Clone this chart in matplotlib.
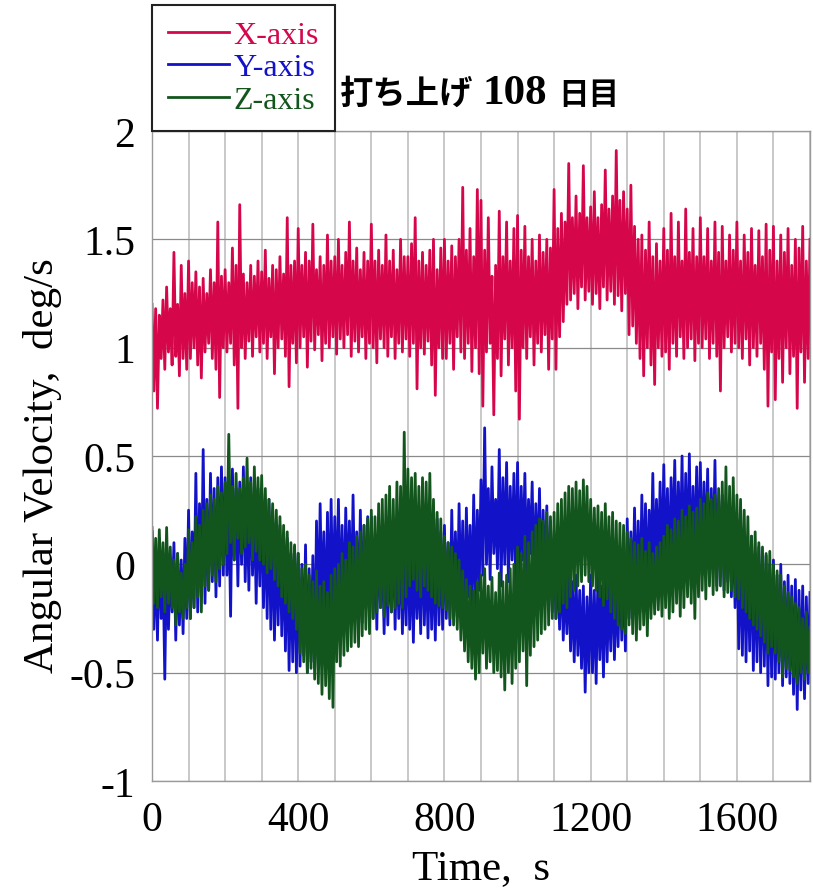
import numpy as np
import matplotlib
matplotlib.use("Agg")
import matplotlib.pyplot as plt

# sample times, every 5 s
t = np.arange(0, 1805, 5)

# angular velocity (deg/s), one row per 100 s
x_axis = [
    1.20, 0.80, 1.18, 0.72, 1.15, 0.95, 1.22, 0.90, 1.28, 0.98, 1.18, 0.92, 1.44, 0.96, 1.20, 0.87, 1.38, 0.95, 1.25, 0.90,
    1.40, 0.95, 1.30, 1.00, 1.35, 0.92, 1.28, 0.86, 1.32, 0.98, 1.25, 1.02, 1.36, 0.95, 1.30, 0.90, 1.58, 0.77, 1.33, 1.00,
    1.36, 0.98, 1.30, 1.02, 1.46, 0.92, 1.38, 0.72, 1.66, 1.00, 1.34, 0.95, 1.30, 1.03, 1.38, 0.96, 1.33, 1.05, 1.40, 0.98,
    1.35, 1.02, 1.45, 0.95, 1.32, 1.05, 1.38, 0.88, 1.36, 1.00, 1.42, 1.04, 1.34, 0.96, 1.60, 0.82, 1.38, 1.02, 1.40, 0.93,
    1.55, 1.00, 1.38, 1.05, 1.44, 0.91, 1.40, 1.03, 1.57, 0.99, 1.36, 1.06, 1.42, 0.94, 1.38, 1.02, 1.52, 1.00, 1.40, 1.05,
    1.42, 0.97, 1.50, 1.04, 1.38, 1.00, 1.44, 1.06, 1.58, 0.96, 1.40, 1.03, 1.46, 0.98, 1.36, 1.05, 1.44, 0.95, 1.40, 1.02,
    1.57, 1.00, 1.40, 0.93, 1.45, 1.04, 1.38, 1.00, 1.52, 0.96, 1.40, 1.05, 1.45, 0.95, 1.36, 1.02, 1.50, 0.98, 1.42, 1.04,
    1.42, 0.96, 1.48, 1.02, 1.60, 0.81, 1.40, 1.00, 1.44, 0.97, 1.38, 1.03, 1.45, 0.92, 1.50, 0.78, 1.36, 1.00, 1.46, 0.95,
    1.50, 0.95, 1.40, 1.02, 1.47, 0.90, 1.42, 1.05, 1.50, 0.98, 1.74, 0.95, 1.45, 1.02, 1.55, 0.89, 1.42, 1.00, 1.73, 0.88,
    1.68, 0.73, 1.45, 0.98, 1.60, 1.02, 1.33, 0.69, 1.38, 0.95, 1.63, 0.87, 1.42, 1.04, 1.58, 0.92, 1.40, 1.00, 1.55, 0.80,
    1.61, 0.67, 1.45, 1.00, 1.56, 0.95, 1.42, 1.05, 1.50, 0.92, 1.40, 1.02, 1.52, 0.98, 1.44, 1.06, 1.50, 0.90, 1.46, 1.04,
    1.73, 0.90, 1.55, 1.05, 1.62, 1.12, 1.58, 1.20, 1.85, 1.22, 1.60, 1.25, 1.70, 1.18, 1.62, 1.28, 1.84, 1.22, 1.60, 1.26,
    1.65, 1.20, 1.72, 1.25, 1.60, 1.18, 1.66, 1.28, 1.82, 1.22, 1.64, 1.26, 1.70, 1.20, 1.91, 1.24, 1.68, 1.17, 1.72, 1.25,
    1.64, 1.06, 1.75, 1.10, 1.56, 1.02, 1.50, 0.95, 1.52, 0.87, 1.45, 1.00, 1.58, 0.92, 1.42, 0.83, 1.48, 1.00, 1.40, 0.96,
    1.55, 0.98, 1.45, 0.90, 1.62, 1.02, 1.42, 0.96, 1.58, 1.05, 1.40, 0.95, 1.64, 1.00, 1.44, 1.04, 1.55, 0.94, 1.42, 1.02,
    1.60, 1.00, 1.42, 1.04, 1.55, 0.95, 1.40, 1.02, 1.58, 0.96, 1.44, 0.80, 1.56, 1.00, 1.40, 1.05, 1.52, 0.98, 1.45, 1.02,
    1.58, 1.00, 1.40, 0.95, 1.52, 1.04, 1.44, 0.92, 1.55, 1.00, 1.38, 0.96, 1.54, 1.02, 1.42, 0.90, 1.57, 0.73, 1.45, 0.98,
    1.56, 0.76, 1.40, 0.95, 1.52, 0.84, 1.44, 1.00, 1.55, 0.88, 1.38, 0.96, 1.50, 0.72, 1.46, 0.98, 1.56, 0.84, 1.40, 0.95,
    1.50]

y_axis = [
    0.15, -0.30, 0.05, -0.35, 0.12, -0.25, 0.02, -0.53, 0.08, -0.30, 0.00, -0.22, 0.10, -0.35, 0.05, -0.28, 0.02, -0.32, 0.12, -0.25,
    0.25, -0.25, 0.15, -0.20, 0.42, -0.22, 0.28, -0.15, 0.53, -0.18, 0.30, -0.12, 0.42, -0.08, 0.35, -0.15, 0.40, -0.10, 0.45, -0.05,
    0.40, -0.05, 0.30, -0.24, 0.44, 0.02, 0.35, -0.10, 0.38, 0.00, 0.45, -0.08, 0.32, -0.12, 0.40, -0.05, 0.30, -0.18, 0.35, -0.10,
    0.33, -0.20, 0.25, -0.25, 0.30, -0.30, 0.20, -0.35, 0.15, -0.28, 0.18, -0.33, 0.10, -0.40, 0.12, -0.49, 0.05, -0.45, 0.08, -0.50,
    0.05, -0.47, 0.00, -0.42, 0.09, -0.50, -0.02, -0.45, 0.04, -0.48, 0.20, -0.30, 0.28, -0.25, 0.15, -0.33, 0.24, -0.28, 0.30, -0.25,
    0.22, -0.20, 0.30, -0.25, 0.18, -0.28, 0.26, -0.15, 0.20, -0.24, 0.32, -0.20, 0.15, -0.22, 0.25, -0.27, 0.18, -0.20, 0.22, -0.25,
    0.22, -0.25, 0.12, -0.30, 0.18, -0.20, 0.10, -0.32, 0.15, -0.28, 0.08, -0.22, 0.20, -0.30, 0.12, -0.25, 0.15, -0.32, 0.10, -0.28,
    0.16, -0.30, 0.08, -0.36, 0.12, -0.25, 0.05, -0.32, 0.18, -0.28, 0.10, -0.34, 0.15, -0.30, 0.08, -0.35, 0.21, -0.28, 0.15, -0.30,
    0.18, -0.25, 0.10, -0.28, 0.25, -0.20, 0.15, -0.24, 0.28, -0.19, 0.20, -0.28, 0.26, -0.15, 0.18, -0.22, 0.32, -0.20, 0.25, -0.12,
    0.39, -0.05, 0.63, 0.00, 0.35, -0.07, 0.45, 0.05, 0.30, -0.02, 0.53, -0.10, 0.40, 0.00, 0.47, -0.08, 0.36, 0.02, 0.42, -0.10,
    0.47, -0.08, 0.36, 0.02, 0.42, -0.05, 0.30, 0.05, 0.38, -0.12, 0.28, -0.05, 0.35, -0.15, 0.25, -0.10, 0.27, -0.20, 0.20, -0.22,
    0.10, -0.25, 0.02, -0.30, 0.05, -0.35, -0.05, -0.32, 0.00, -0.40, -0.08, -0.45, -0.05, -0.42, -0.12, -0.48, -0.10, -0.59, -0.15, -0.50,
    -0.05, -0.50, -0.12, -0.55, -0.02, -0.44, -0.10, -0.52, 0.00, -0.45, -0.08, -0.40, 0.02, -0.44, -0.05, -0.38, 0.05, -0.35, 0.00, -0.40,
    0.21, -0.25, 0.15, -0.20, 0.26, -0.18, 0.20, -0.22, 0.32, -0.12, 0.28, -0.15, 0.25, -0.05, 0.42, -0.10, 0.30, -0.02, 0.38, -0.08,
    0.46, -0.02, 0.35, -0.08, 0.40, 0.05, 0.48, -0.05, 0.38, 0.00, 0.50, -0.08, 0.42, -0.02, 0.51, -0.10, 0.36, 0.02, 0.45, -0.05,
    0.47, -0.05, 0.38, 0.00, 0.44, -0.08, 0.35, -0.02, 0.48, -0.10, 0.30, -0.05, 0.32, -0.12, 0.25, -0.08, 0.28, -0.15, 0.22, -0.20,
    0.21, -0.39, 0.12, -0.42, 0.15, -0.45, 0.08, -0.40, 0.13, -0.49, 0.05, -0.45, 0.08, -0.50, 0.02, -0.47, 0.04, -0.56, 0.00, -0.52,
    0.02, -0.53, -0.05, -0.50, 0.00, -0.56, -0.08, -0.52, -0.05, -0.55, -0.10, -0.60, -0.07, -0.67, -0.12, -0.58, -0.10, -0.62, -0.15, -0.55,
    -0.13]

z_axis = [
    0.17, -0.18, 0.12, -0.20, 0.16, -0.15, 0.10, -0.22, 0.17, -0.18, 0.08, -0.20, 0.02, -0.28, 0.05, -0.22, -0.04, -0.25, 0.00, -0.20,
    0.16, -0.25, 0.10, -0.20, 0.22, -0.15, 0.18, -0.22, 0.25, -0.10, 0.28, -0.12, 0.32, -0.05, 0.30, -0.08, 0.36, -0.02, 0.33, 0.00,
    0.38, 0.05, 0.60, 0.10, 0.36, 0.02, 0.42, 0.12, 0.35, 0.05, 0.40, 0.08, 0.49, 0.10, 0.38, 0.02, 0.45, 0.06, 0.40, 0.02,
    0.41, 0.00, 0.35, -0.04, 0.30, -0.02, 0.28, -0.07, 0.25, -0.10, 0.22, -0.15, 0.18, -0.18, 0.15, -0.22, 0.10, -0.25, 0.09, -0.30,
    0.05, -0.41, -0.02, -0.45, 0.00, -0.50, -0.05, -0.48, -0.08, -0.53, -0.03, -0.55, -0.10, -0.60, -0.08, -0.56, -0.13, -0.62, -0.05, -0.66,
    -0.02, -0.45, 0.00, -0.47, 0.05, -0.42, 0.02, -0.40, 0.10, -0.38, 0.08, -0.36, 0.13, -0.38, 0.15, -0.33, 0.18, -0.30, 0.21, -0.32,
    0.25, -0.25, 0.22, -0.22, 0.28, -0.20, 0.30, -0.24, 0.32, -0.19, 0.36, -0.22, 0.30, -0.20, 0.38, -0.18, 0.36, -0.20, 0.61, -0.15,
    0.44, -0.10, 0.40, -0.07, 0.42, -0.12, 0.36, -0.15, 0.40, -0.10, 0.38, -0.12, 0.42, -0.15, 0.30, -0.18, 0.24, -0.19, 0.21, -0.20,
    0.13, -0.21, 0.10, -0.25, 0.08, -0.28, 0.05, -0.30, 0.02, -0.35, -0.03, -0.40, -0.07, -0.45, -0.10, -0.48, -0.12, -0.53, -0.08, -0.50,
    -0.05, -0.41, -0.02, -0.48, -0.10, -0.45, -0.06, -0.50, -0.13, -0.49, -0.04, -0.52, -0.08, -0.58, -0.05, -0.50, -0.02, -0.55, 0.00, -0.48,
    0.08, -0.45, 0.05, -0.40, 0.13, -0.56, 0.10, -0.42, 0.15, -0.38, 0.18, -0.35, 0.21, -0.32, 0.20, -0.30, 0.24, -0.28, 0.22, -0.25,
    0.24, -0.25, 0.28, -0.22, 0.30, -0.18, 0.33, -0.20, 0.36, -0.15, 0.35, -0.12, 0.38, -0.10, 0.34, -0.08, 0.39, -0.05, 0.36, -0.08,
    0.30, -0.10, 0.26, -0.12, 0.27, -0.15, 0.24, -0.19, 0.28, -0.16, 0.22, -0.22, 0.24, -0.25, 0.20, -0.28, 0.19, -0.30, 0.18, -0.32,
    0.15, -0.28, 0.12, -0.32, 0.10, -0.35, 0.09, -0.30, 0.12, -0.28, 0.06, -0.33, 0.10, -0.25, 0.05, -0.23, 0.08, -0.21, 0.10, -0.24,
    0.13, -0.20, 0.18, -0.25, 0.16, -0.22, 0.21, -0.18, 0.20, -0.24, 0.25, -0.20, 0.22, -0.15, 0.27, -0.18, 0.24, -0.25, 0.26, -0.15,
    0.30, -0.12, 0.28, -0.16, 0.33, -0.10, 0.30, -0.14, 0.32, -0.12, 0.35, -0.10, 0.38, -0.15, 0.45, -0.13, 0.36, -0.12, 0.40, -0.15,
    0.32, -0.16, 0.30, -0.20, 0.25, -0.22, 0.22, -0.25, 0.13, -0.28, 0.15, -0.30, 0.10, -0.33, 0.08, -0.36, 0.05, -0.41, 0.06, -0.38,
    0.00, -0.41, -0.03, -0.45, -0.05, -0.52, -0.10, -0.48, -0.13, -0.49, -0.15, -0.52, -0.18, -0.55, -0.20, -0.50, -0.25, -0.53, -0.22, -0.50,
    -0.29]

labels = ["X-axis", "Y-axis", "Z-axis"]
colors = ["#d6064b", "#1212c8", "#13561d"]

serif = "Liberation Serif"
jp = ["Noto Sans CJK JP", "DejaVu Sans"]

fig = plt.figure(figsize=(8.13, 8.95), dpi=100)
ax = fig.add_axes([152/813, 1 - 782/895, 658/813, 650/895])

for vals, lab, c in zip([x_axis, y_axis, z_axis], labels, colors):
    ax.plot(t, vals, color=c, lw=2.0, label=lab)

ax.set_xlim(0, 1800)
ax.set_ylim(-1, 2)
ax.set_xticks([0, 400, 800, 1200, 1600])
ax.set_xticks(np.arange(0, 1801, 100), minor=True)
ax.set_yticks([-1, -0.5, 0, 0.5, 1, 1.5, 2])
ax.set_yticklabels(["-1", "-0.5", "0", "0.5", "1", "1.5", "2"])
ax.grid(True, which="both", axis="x", color="#c8c8c8", lw=1.4)
ax.grid(True, which="major", axis="y", color="#8a8a8a", lw=0.9)
ax.set_axisbelow(True)
ax.tick_params(which="both", length=0, labelsize=30)
ax.tick_params(axis="x", pad=14)
ax.tick_params(axis="y", pad=12)
for lbl in ax.get_xticklabels() + ax.get_yticklabels():
    lbl.set_fontfamily(serif)
for s in ax.spines.values():
    s.set_color("#9a9a9a")
    s.set_linewidth(1.0)

ax.set_xlabel("Time,  s", fontsize=31, fontfamily=serif, labelpad=7)
ax.set_ylabel("Angular Velocity,  deg/s", fontsize=31, fontfamily=serif)
ax.yaxis.set_label_coords(-0.137, 0.486)

leg = ax.legend(loc="lower left", bbox_to_anchor=(0, 1),
                prop={"family": serif, "size": 23}, labelcolor=colors,
                fancybox=False, framealpha=1, edgecolor="#222222",
                handlelength=1.9, handletextpad=0.15, labelspacing=0.1,
                borderpad=0.5, borderaxespad=0)
leg.get_frame().set_linewidth(1.5)

base = 1 - 104/895
fig.text(340/813, base, "打ち上げ", fontsize=24, fontweight="bold", family=jp, va="baseline")
fig.text(482/813, base, "108", fontsize=31, fontweight="bold", family=serif, va="baseline")
fig.text(558/813, base, "日目", fontsize=22, fontweight="bold", family=jp, va="baseline")

fig.savefig("out.png", dpi=100)
